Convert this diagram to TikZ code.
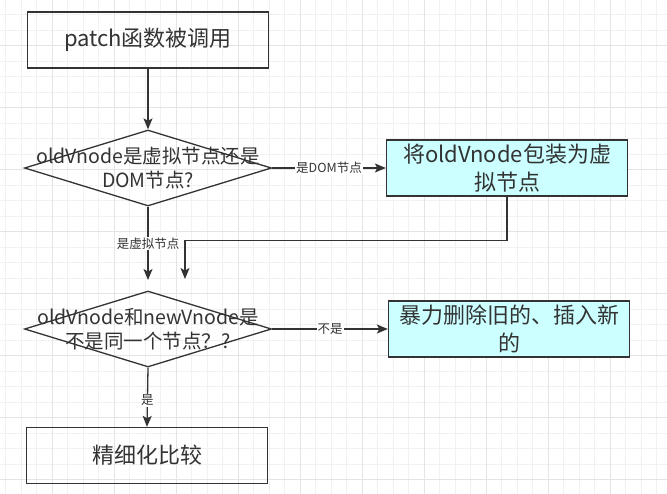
\documentclass[tikz,border=0pt]{standalone}
\usepackage{fontspec}
\setmainfont{Noto Sans CJK SC}
\usetikzlibrary{shapes.geometric,arrows.meta}
\definecolor{ink}{HTML}{333333}
\definecolor{wrapfill}{HTML}{CCFFFF}
\definecolor{gridminor}{HTML}{F1F1F1}
\definecolor{gridmajor}{HTML}{E4E4E4}

\begin{document}
\begin{tikzpicture}[x=1pt,y=1pt,
    box/.style={draw=ink, line width=1.3pt, minimum width=241pt, minimum height=56pt,
      inner sep=0pt, text=ink, align=center, font=\fontsize{22}{28}\selectfont},
    choice/.style={diamond, draw=ink, line width=1.3pt, minimum width=247pt,
      minimum height=76pt, inner sep=0pt},
    ask/.style={text=ink, align=center, font=\fontsize{19.5}{24}\selectfont},
    flow/.style={draw=ink, line width=1.3pt, -{Stealth[length=11pt,width=9pt,inset=2.5pt]}},
    tag/.style={fill=white, text=ink, inner sep=1pt, font=\fontsize{12.5}{14}\selectfont}]
      \useasboundingbox (0,0) rectangle (667,-493);
      \fill[white] (0,0) rectangle (667,-493);
      % background grid
      \begin{scope}
        \clip (0,0) rectangle (667,-493);
        \begin{scope}[shift={(52,-45.3)}]
          \draw[gridminor, line width=0.6pt, step=15.5] (-62,62) grid (620,-455);
          \draw[gridmajor, line width=0.6pt, step=62] (-62,62) grid (620,-455);
        \end{scope}
      \end{scope}
      % steps
      \node[box] (call) at (148,-40) {patch函数被调用};
      \node[choice, label={[ask]center:{oldVnode是虚拟节点还是\\DOM节点?}}] (isdom) at (148,-168) {};
      \node[box, fill=wrapfill] (wrap) at (507,-168) {将oldVnode包装为虚\\拟节点};
      \node[choice, label={[ask]center:{oldVnode和newVnode是\\不是同一个节点？?}}] (same) at (148,-329) {};
      \node[box, fill=wrapfill] (replace) at (509,-329) {暴力删除旧的、插入新\\的};
      \node[box] (diff) at (147,-455.5) {精细化比较};
      \coordinate (sametop) at (148,-280);
      \coordinate (samein) at (185,-279);
      % arrows
      \draw[flow] (call.south) -- (isdom.north);
      \draw[flow] (isdom.east) -- node[tag] {是DOM节点} (wrap.west);
      \draw[flow] (isdom.south) -- node[tag] {是虚拟节点} (sametop);
      \draw[flow] (wrap.south) -- ++(0,-44) -| (samein);
      \draw[flow] (same.east) -- node[tag] {不是} (replace.west);
      \draw[flow] (same.south) -- node[tag, pos=0.55] {是} (diff.north);
    \end{tikzpicture}
\end{document}
